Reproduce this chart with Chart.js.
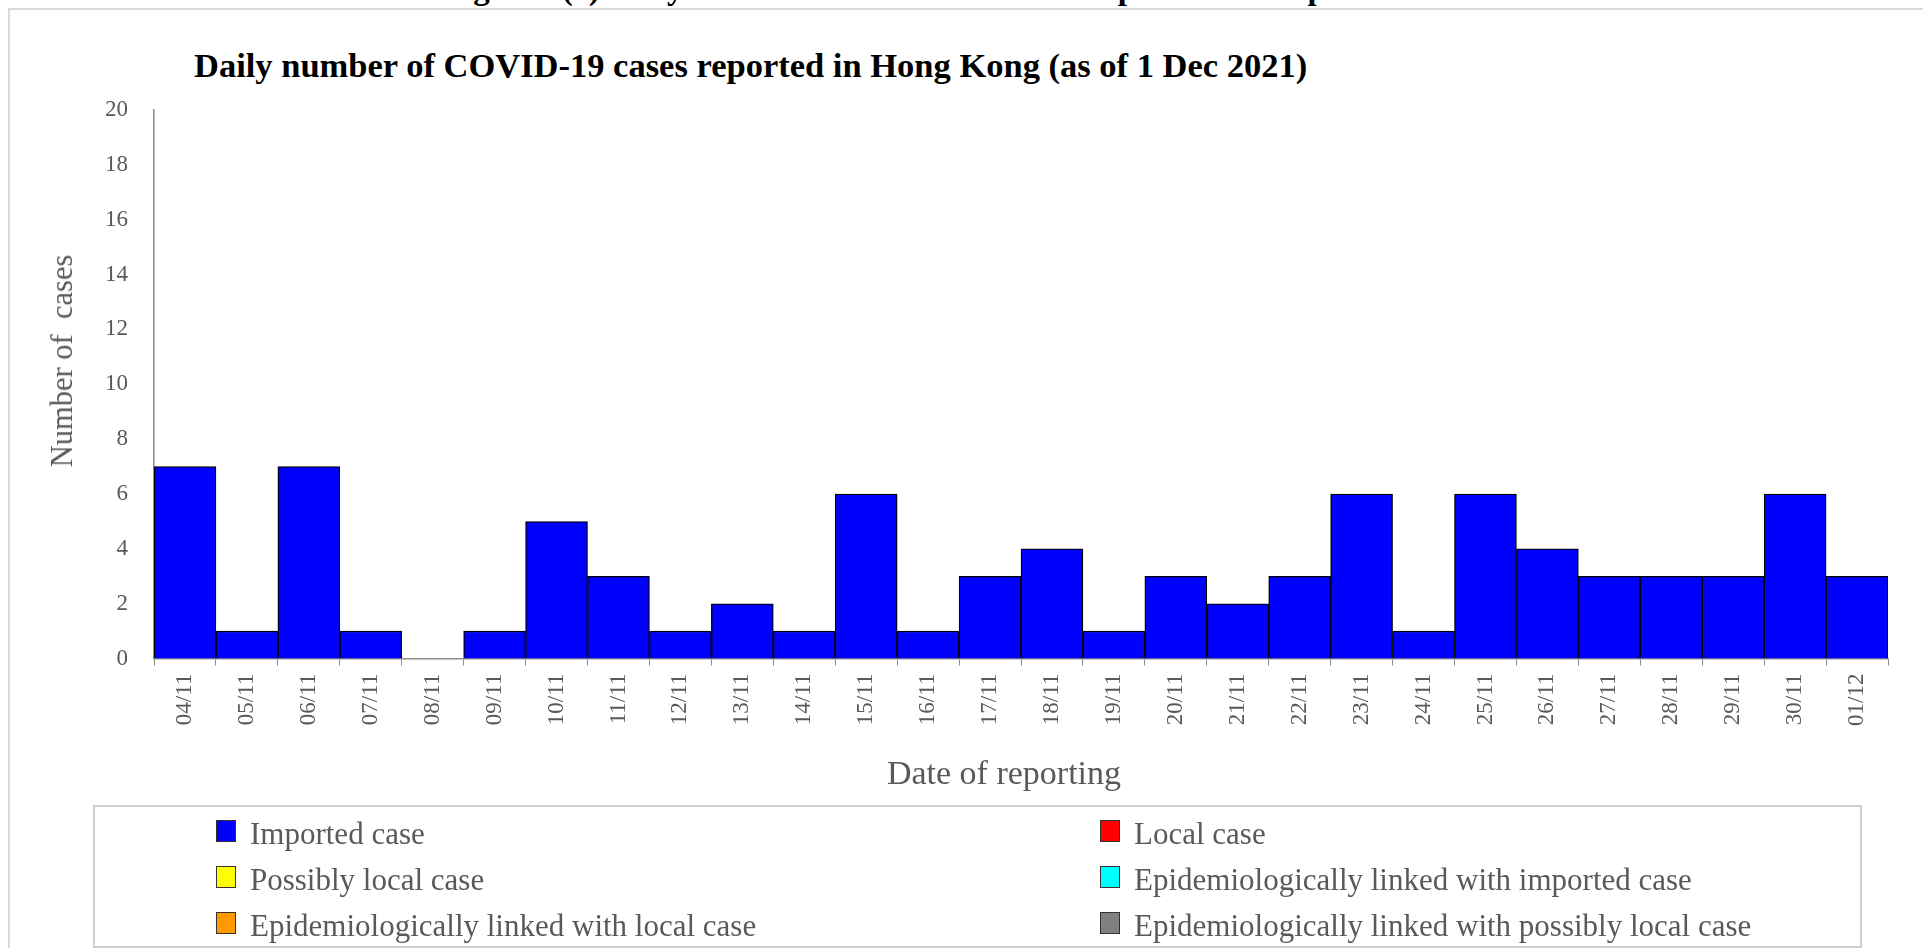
<!DOCTYPE html>
<html>
<head>
<meta charset="utf-8">
<script src="https://cdn.jsdelivr.net/npm/chart.js@4.4.1/dist/chart.umd.min.js"></script>
<style>
  html, body { margin: 0; padding: 0; background: #fff; overflow: hidden; }
  body { width: 1923px; height: 948px; position: relative; font-family: "Liberation Serif", "Times New Roman", serif; }
  #frame { position: absolute; left: 8px; top: 8px; right: -10px; bottom: -10px;
           border-top: 2px solid #d9d9d9; border-left: 2px solid #d9d9d9; }
  #heading { position: absolute; left: 444px; top: -32px; font-size: 33px; line-height: 40px;
             font-weight: bold; color: #000; white-space: nowrap; }
  #title { position: absolute; left: 194px; top: 45px; font-size: 34.5px; line-height: 40px;
           font-weight: bold; color: #000; white-space: nowrap; }
  #chart { position: absolute; left: 0; top: 0; }
  .axis-title { position: absolute; font-size: 30.5px; line-height: 36px; color: #595959; white-space: pre; }
  #ytitle { left: 62px; top: 361px; transform: translate(-50%, -50%) rotate(-90deg); }
  #xtitle { left: 1004px; top: 773px; transform: translate(-50%, -50%); font-size: 34px; line-height: 40px; }
  #legend { position: absolute; left: 93px; top: 805px; width: 1769px; height: 143px;
            border: 2px solid #cfcfcf; box-sizing: border-box;
            display: grid; grid-template-columns: 884px auto; grid-auto-rows: 46px;
            padding: 4px 0 0 121px; }
  .item { display: flex; align-items: center; font-size: 31px; color: #595959; white-space: nowrap; }
  .box { width: 18px; height: 20px; border: 1.5px solid #333; margin-right: 14px; transform: translateY(-3px); }
</style>
</head>
<body>
<div id="frame"></div>
<div id="heading">Figure 2(a) Daily number of COVID-19 cases reported in the past 4 weeks</div>
<div id="title">Daily number of COVID-19 cases reported in Hong Kong (as of 1 Dec 2021)</div>
<canvas id="chart" width="1923" height="948"></canvas>
<div id="ytitle" class="axis-title">Number of  cases</div>
<div id="xtitle" class="axis-title">Date of reporting</div>
<div id="legend"></div>
<script>
// Dates of reporting (dd/mm)
const dateLabels = ['04/11', '05/11', '06/11', '07/11', '08/11', '09/11', '10/11', '11/11',
  '12/11', '13/11', '14/11', '15/11', '16/11', '17/11', '18/11', '19/11', '20/11', '21/11',
  '22/11', '23/11', '24/11', '25/11', '26/11', '27/11', '28/11', '29/11', '30/11', '01/12'];

// Cases per category
const importedCases = [7, 1, 7, 1, 0, 1, 5, 3, 1, 2, 1, 6, 1, 3, 4, 1, 3, 2, 3, 6, 1, 6, 4, 3, 3, 3, 6, 3];
const localCases = [0, 0, 0, 0, 0, 0, 0, 0, 0, 0, 0, 0, 0, 0, 0, 0, 0, 0, 0, 0, 0, 0, 0, 0, 0, 0, 0, 0];
const possiblyLocalCases = [0, 0, 0, 0, 0, 0, 0, 0, 0, 0, 0, 0, 0, 0, 0, 0, 0, 0, 0, 0, 0, 0, 0, 0, 0, 0, 0, 0];
const linkedImportedCases = [0, 0, 0, 0, 0, 0, 0, 0, 0, 0, 0, 0, 0, 0, 0, 0, 0, 0, 0, 0, 0, 0, 0, 0, 0, 0, 0, 0];
const linkedLocalCases = [0, 0, 0, 0, 0, 0, 0, 0, 0, 0, 0, 0, 0, 0, 0, 0, 0, 0, 0, 0, 0, 0, 0, 0, 0, 0, 0, 0];
const linkedPossiblyLocalCases = [0, 0, 0, 0, 0, 0, 0, 0, 0, 0, 0, 0, 0, 0, 0, 0, 0, 0, 0, 0, 0, 0, 0, 0, 0, 0, 0, 0];

const seriesNames = ['Imported case', 'Local case', 'Possibly local case',
  'Epidemiologically linked with imported case', 'Epidemiologically linked with local case',
  'Epidemiologically linked with possibly local case'];
const seriesColors = ['#0000ff', '#ff0000', '#ffff00', '#00ffff', '#ff9900', '#808080'];
const seriesValues = [importedCases, localCases, possiblyLocalCases,
  linkedImportedCases, linkedLocalCases, linkedPossiblyLocalCases];

const yMin = 0;
const yMax = 20;
const yStep = 2;

const serif = '"Liberation Serif", "Times New Roman", serif';
const axisGrey = '#8c8c8c';
const textGrey = '#595959';

const chart = new Chart(document.getElementById('chart'), {
  type: 'bar',
  data: {
    labels: dateLabels,
    datasets: seriesNames.map((name, i) => ({
      label: name,
      data: seriesValues[i],
      backgroundColor: seriesColors[i],
      borderColor: '#000',
      borderWidth: 1.3,
      barPercentage: 1.0,
      categoryPercentage: 1.0,
    })),
  },
  options: {
    responsive: false,
    animation: false,
    layout: { padding: { left: 79, right: 35, top: 110, bottom: 214 } },
    plugins: {
      legend: { display: false },
      tooltip: { enabled: false },
    },
    scales: {
      x: {
        stacked: true,
        grid: { display: true, drawOnChartArea: false, drawTicks: true, tickLength: 7, color: axisGrey, offset: true },
        border: { display: true, color: axisGrey, width: 1.5 },
        ticks: {
          autoSkip: false, minRotation: 90, maxRotation: 90, padding: 8,
          color: textGrey, font: { family: serif, size: 23 },
        },
      },
      y: {
        stacked: true,
        min: yMin,
        max: yMax,
        grid: { display: false, drawTicks: false },
        border: { display: true, color: axisGrey, width: 1.5 },
        ticks: { stepSize: yStep, padding: 26, color: textGrey, font: { family: serif, size: 23 } },
      },
    },
  },
});

// Legend built from the chart's own datasets
const legendEl = document.getElementById('legend');
chart.data.datasets.forEach(ds => {
  const item = document.createElement('div');
  item.className = 'item';
  const box = document.createElement('span');
  box.className = 'box';
  box.style.background = ds.backgroundColor;
  item.appendChild(box);
  item.appendChild(document.createTextNode(ds.label));
  legendEl.appendChild(item);
});
</script>
</body>
</html>
